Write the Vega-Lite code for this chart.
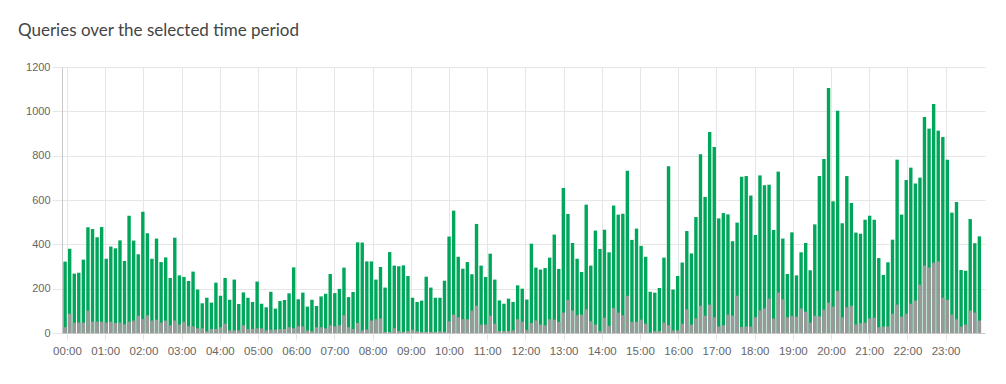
{
"$schema": "https://vega.github.io/schema/vega-lite/v6.json",
"autosize": {"type": "none"},
"width": 923, "height": 266,
"padding": {"left": 62, "top": 67, "right": 21, "bottom": 51},
"background": "white",
"title": {"text": "Queries over the selected time period", "anchor": "start", "frame": "group", "dx": -44, "offset": 21, "font": "Lato", "fontSize": 17, "fontWeight": "normal", "color": "#444"},
"data": {"values": [
{"t":-3,"total":322,"blocked":26},{"t":4.2,"total":380,"blocked":87},{"t":11.4,"total":268,"blocked":47},{"t":18.5,"total":272,"blocked":47},{"t":25.7,"total":331,"blocked":47},{"t":32.9,"total":477,"blocked":101},{"t":40.1,"total":469,"blocked":51},{"t":47.3,"total":432,"blocked":51},{"t":54.4,"total":478,"blocked":51},{"t":61.6,"total":335,"blocked":47},
{"t":68.8,"total":390,"blocked":51},{"t":76,"total":382,"blocked":45},{"t":83.2,"total":418,"blocked":47},{"t":90.3,"total":325,"blocked":39},{"t":97.5,"total":529,"blocked":51},{"t":104.7,"total":417,"blocked":56},{"t":111.9,"total":355,"blocked":78},{"t":119.1,"total":547,"blocked":63},{"t":126.2,"total":450,"blocked":80},{"t":133.4,"total":335,"blocked":56},
{"t":140.6,"total":426,"blocked":60},{"t":147.8,"total":320,"blocked":47},{"t":155,"total":341,"blocked":56},{"t":162.1,"total":248,"blocked":35},{"t":169.3,"total":430,"blocked":56},{"t":176.5,"total":260,"blocked":38},{"t":183.7,"total":253,"blocked":51},{"t":190.9,"total":235,"blocked":30},{"t":198,"total":277,"blocked":30},{"t":205.2,"total":196,"blocked":21},
{"t":212.4,"total":134,"blocked":21},{"t":219.6,"total":159,"blocked":8},{"t":226.8,"total":137,"blocked":18},{"t":233.9,"total":227,"blocked":18},{"t":241.1,"total":168,"blocked":26},{"t":248.3,"total":248,"blocked":42},{"t":255.5,"total":150,"blocked":12},{"t":262.7,"total":241,"blocked":12},{"t":269.8,"total":131,"blocked":12},{"t":277,"total":183,"blocked":35},
{"t":284.2,"total":159,"blocked":18},{"t":291.4,"total":140,"blocked":18},{"t":298.6,"total":232,"blocked":21},{"t":305.7,"total":132,"blocked":21},{"t":312.9,"total":116,"blocked":12},{"t":320.1,"total":186,"blocked":15},{"t":327.3,"total":110,"blocked":15},{"t":334.5,"total":144,"blocked":18},{"t":341.6,"total":149,"blocked":18},{"t":348.8,"total":179,"blocked":26},
{"t":356,"total":296,"blocked":21},{"t":363.2,"total":152,"blocked":30},{"t":370.4,"total":182,"blocked":30},{"t":377.5,"total":119,"blocked":12},{"t":384.7,"total":150,"blocked":8},{"t":391.9,"total":122,"blocked":26},{"t":399.1,"total":165,"blocked":26},{"t":406.3,"total":177,"blocked":21},{"t":413.4,"total":266,"blocked":35},{"t":420.6,"total":180,"blocked":30},
{"t":427.8,"total":199,"blocked":35},{"t":435,"total":295,"blocked":80},{"t":442.2,"total":162,"blocked":26},{"t":449.3,"total":185,"blocked":18},{"t":456.5,"total":409,"blocked":45},{"t":463.7,"total":408,"blocked":12},{"t":470.9,"total":323,"blocked":16},{"t":478.1,"total":323,"blocked":56},{"t":485.2,"total":241,"blocked":62},{"t":492.4,"total":298,"blocked":65},
{"t":499.6,"total":205,"blocked":5},{"t":506.8,"total":365,"blocked":5},{"t":514,"total":304,"blocked":21},{"t":521.1,"total":301,"blocked":9},{"t":528.3,"total":305,"blocked":5},{"t":535.5,"total":257,"blocked":9},{"t":542.7,"total":159,"blocked":15},{"t":549.9,"total":140,"blocked":8},{"t":557,"total":146,"blocked":5},{"t":564.2,"total":254,"blocked":5},
{"t":571.4,"total":205,"blocked":5},{"t":578.6,"total":159,"blocked":5},{"t":585.8,"total":159,"blocked":8},{"t":592.9,"total":236,"blocked":5},{"t":600.1,"total":435,"blocked":53},{"t":607.3,"total":552,"blocked":83},{"t":614.5,"total":344,"blocked":71},{"t":621.7,"total":290,"blocked":62},{"t":628.8,"total":320,"blocked":62},{"t":636,"total":265,"blocked":101},
{"t":643.2,"total":492,"blocked":123},{"t":650.4,"total":304,"blocked":38},{"t":657.6,"total":253,"blocked":38},{"t":664.7,"total":358,"blocked":78},{"t":671.9,"total":241,"blocked":42},{"t":679.1,"total":147,"blocked":9},{"t":686.3,"total":132,"blocked":9},{"t":693.5,"total":155,"blocked":9},{"t":700.6,"total":140,"blocked":12},{"t":707.8,"total":215,"blocked":62},
{"t":715,"total":200,"blocked":51},{"t":722.2,"total":151,"blocked":14},{"t":729.4,"total":403,"blocked":45},{"t":736.5,"total":295,"blocked":57},{"t":743.7,"total":286,"blocked":38},{"t":750.9,"total":293,"blocked":35},{"t":758.1,"total":340,"blocked":62},{"t":765.3,"total":444,"blocked":60},{"t":772.4,"total":289,"blocked":50},{"t":779.6,"total":654,"blocked":92},
{"t":786.8,"total":537,"blocked":149},{"t":794,"total":406,"blocked":101},{"t":801.2,"total":335,"blocked":80},{"t":808.3,"total":275,"blocked":83},{"t":815.5,"total":579,"blocked":107},{"t":822.7,"total":304,"blocked":53},{"t":829.9,"total":462,"blocked":38},{"t":837.1,"total":379,"blocked":9},{"t":844.2,"total":466,"blocked":69},{"t":851.4,"total":364,"blocked":32},
{"t":858.6,"total":575,"blocked":113},{"t":865.8,"total":534,"blocked":92},{"t":873,"total":538,"blocked":80},{"t":880.1,"total":732,"blocked":168},{"t":887.3,"total":420,"blocked":50},{"t":894.5,"total":471,"blocked":50},{"t":901.7,"total":393,"blocked":60},{"t":908.9,"total":344,"blocked":42},{"t":916,"total":186,"blocked":2},{"t":923.2,"total":182,"blocked":8},
{"t":930.4,"total":203,"blocked":9},{"t":937.6,"total":340,"blocked":47},{"t":944.8,"total":752,"blocked":35},{"t":951.9,"total":196,"blocked":12},{"t":959.1,"total":257,"blocked":12},{"t":966.3,"total":318,"blocked":42},{"t":973.5,"total":460,"blocked":107},{"t":980.7,"total":359,"blocked":38},{"t":987.8,"total":523,"blocked":66},{"t":995,"total":806,"blocked":123},
{"t":1002.2,"total":614,"blocked":78},{"t":1009.4,"total":907,"blocked":128},{"t":1016.6,"total":839,"blocked":71},{"t":1023.7,"total":517,"blocked":29},{"t":1030.9,"total":541,"blocked":35},{"t":1038.1,"total":535,"blocked":83},{"t":1045.3,"total":414,"blocked":78},{"t":1052.5,"total":498,"blocked":168},{"t":1059.6,"total":705,"blocked":27},{"t":1066.8,"total":708,"blocked":29},
{"t":1074,"total":620,"blocked":29},{"t":1081.2,"total":442,"blocked":71},{"t":1088.4,"total":711,"blocked":102},{"t":1095.5,"total":666,"blocked":111},{"t":1102.7,"total":669,"blocked":155},{"t":1109.9,"total":465,"blocked":65},{"t":1117.1,"total":728,"blocked":182},{"t":1124.3,"total":426,"blocked":152},{"t":1131.4,"total":266,"blocked":71},{"t":1138.6,"total":454,"blocked":77},
{"t":1145.8,"total":260,"blocked":74},{"t":1153,"total":364,"blocked":111},{"t":1160.2,"total":406,"blocked":96},{"t":1167.3,"total":283,"blocked":47},{"t":1174.5,"total":490,"blocked":78},{"t":1181.7,"total":708,"blocked":75},{"t":1188.9,"total":785,"blocked":105},{"t":1196.1,"total":1105,"blocked":137},{"t":1203.2,"total":594,"blocked":119},{"t":1210.4,"total":1003,"blocked":190},
{"t":1217.6,"total":495,"blocked":71},{"t":1224.8,"total":708,"blocked":116},{"t":1232,"total":587,"blocked":123},{"t":1239.1,"total":453,"blocked":39},{"t":1246.3,"total":448,"blocked":44},{"t":1253.5,"total":511,"blocked":47},{"t":1260.7,"total":529,"blocked":66},{"t":1267.9,"total":511,"blocked":69},{"t":1275,"total":338,"blocked":26},{"t":1282.2,"total":262,"blocked":29},
{"t":1289.4,"total":319,"blocked":29},{"t":1296.6,"total":421,"blocked":87},{"t":1303.8,"total":782,"blocked":128},{"t":1310.9,"total":534,"blocked":74},{"t":1318.1,"total":690,"blocked":87},{"t":1325.3,"total":746,"blocked":132},{"t":1332.5,"total":675,"blocked":146},{"t":1339.7,"total":701,"blocked":218},{"t":1346.8,"total":975,"blocked":304},{"t":1354,"total":922,"blocked":295},
{"t":1361.2,"total":1033,"blocked":317},{"t":1368.4,"total":913,"blocked":323},{"t":1375.6,"total":884,"blocked":159},{"t":1382.7,"total":782,"blocked":150},{"t":1389.9,"total":543,"blocked":83},{"t":1397.1,"total":591,"blocked":62},{"t":1404.3,"total":284,"blocked":29},{"t":1411.5,"total":281,"blocked":38},{"t":1418.6,"total":514,"blocked":101},{"t":1425.8,"total":405,"blocked":92},
{"t":1433,"total":436,"blocked":56}
]},
"layer": [
{"mark": {"type": "bar", "color": "#00a65a", "width": 3.4},
 "encoding": {
  "x": {"field": "t", "type": "quantitative", "scale": {"domain": [0, 1434], "nice": false, "zero": false},
   "axis": {"values": [0,60,120,180,240,300,360,420,480,540,600,660,720,780,840,900,960,1020,1080,1140,1200,1260,1320,1380],
    "labelExpr": "(datum.value < 600 ? '0' : '') + floor(datum.value / 60) + ':00'",
    "title": null, "grid": true, "gridColor": "#e6e6e6", "tickColor": "#e6e6e6", "tickSize": 7, "labelPadding": 5,
    "labelFont": "Liberation Sans", "labelFontSize": 11.5, "labelColor": "#666", "domainColor": "#c8c8c8", "labelFlush": false}},
  "y": {"field": "total", "type": "quantitative", "scale": {"domain": [0, 1200], "nice": false},
   "axis": {"values": [0,200,400,600,800,1000,1200], "format": "d", "title": null, "grid": true, "gridColor": "#e6e6e6", "tickColor": "#e6e6e6", "tickSize": 10, "labelPadding": 2,
    "labelFont": "Liberation Sans", "labelFontSize": 11, "labelColor": "#666", "domainColor": "#c8c8c8"}}
 }},
{"mark": {"type": "bar", "color": "#999999", "width": 3.4},
 "encoding": {
  "x": {"field": "t", "type": "quantitative"},
  "y": {"field": "blocked", "type": "quantitative"}
 }}
],
"config": {"view": {"stroke": null}}
}
